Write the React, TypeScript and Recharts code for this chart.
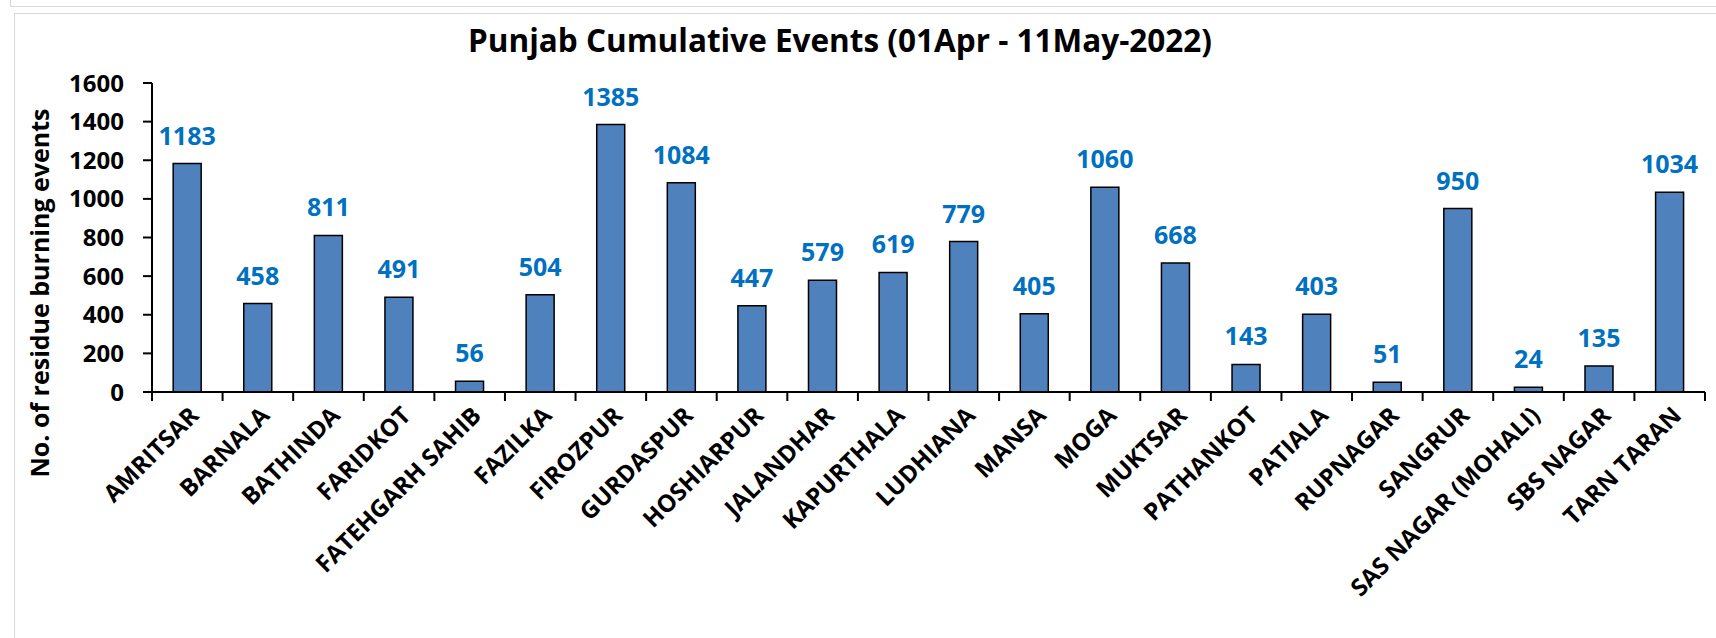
import React from 'react';
import { BarChart, Bar, XAxis, YAxis, LabelList, Label } from 'recharts';

const categories = [
  'AMRITSAR', 'BARNALA', 'BATHINDA', 'FARIDKOT', 'FATEHGARH SAHIB', 'FAZILKA',
  'FIROZPUR', 'GURDASPUR', 'HOSHIARPUR', 'JALANDHAR', 'KAPURTHALA', 'LUDHIANA',
  'MANSA', 'MOGA', 'MUKTSAR', 'PATHANKOT', 'PATIALA', 'RUPNAGAR', 'SANGRUR',
  'SAS NAGAR (MOHALI)', 'SBS NAGAR', 'TARN TARAN',
];
const events = [
  1183, 458, 811, 491, 56, 504, 1385, 1084, 447, 579, 619, 779, 405, 1060, 668,
  143, 403, 51, 950, 24, 135, 1034,
];
const yTicks = [0, 200, 400, 600, 800, 1000, 1200, 1400, 1600];
const title = 'Punjab Cumulative Events (01Apr - 11May-2022)';
const yLabel = 'No. of residue burning events';

const data = categories.map((name, i) => ({ name, value: events[i] }));

const CHART_W = 1716;
const CHART_H = 638;
const Y_AXIS_W = 152;
const X_AXIS_H = 246;
const MARGIN = { top: 83, right: 11, bottom: 0, left: 0 };
const PLOT_LEFT = MARGIN.left + Y_AXIS_W;
const PLOT_W = CHART_W - PLOT_LEFT - MARGIN.right;
const PLOT_BOTTOM = CHART_H - MARGIN.bottom - X_AXIS_H;
const BAND = PLOT_W / categories.length;
const boundaryIdx = [...categories.map((_, i) => i), categories.length];

const FONT = '"Open Sans", Lato, sans-serif';

const XTick = (props: any) => {
  const { x, y, payload } = props;
  const tx = Number(x) + 13;
  const ty = Number(y) + 25;
  return (
    <text
      x={tx}
      y={ty}
      textAnchor="end"
      transform={`rotate(-45, ${tx}, ${ty})`}
      fontFamily={FONT}
      fontWeight={700}
      fontSize={24}
      fill="#000"
    >
      {payload.value}
    </text>
  );
};

const YLabelContent = () => (
  <text
    x={49}
    y={293}
    textAnchor="middle"
    transform="rotate(-90, 49, 293)"
    fontFamily={FONT}
    fontWeight={700}
    fontSize={25}
    fill="#000"
  >
    {yLabel}
  </text>
);

export default function App() {
  return (
    <div style={{ position: 'absolute', left: 0, top: 0, width: CHART_W, height: CHART_H, background: '#fff', overflow: 'hidden' }}>
      <div style={{ position: 'absolute', left: 10, top: -2, width: 1720, height: 8, border: '1.5px solid #d9d9d9', borderTop: 'none', borderRight: 'none' }} />
      <div style={{ position: 'absolute', left: 14, top: 13, width: 1720, height: 640, border: '1.5px solid #d9d9d9', borderBottom: 'none', borderRight: 'none' }} />
      <svg style={{ position: 'absolute', left: 0, top: 0 }} width={CHART_W} height={70}>
        <text x={840} y={52} textAnchor="middle" fontFamily={FONT} fontWeight={700} fontSize={31.5} fill="#000">
          {title}
        </text>
      </svg>
      <div style={{ position: 'absolute', left: 0, top: 0 }}>
        <BarChart
          width={CHART_W}
          height={CHART_H}
          data={data}
          margin={MARGIN}
          barCategoryGap="30%"
        >
          <XAxis
            dataKey="name"
            type="category"
            interval={0}
            height={X_AXIS_H}
            tickSize={0}
            tickMargin={0}
            axisLine={{ stroke: '#000', strokeWidth: 2 }}
            tickLine={false}
            tick={(p: any) => <XTick {...p} />}
          />
          <YAxis
            width={Y_AXIS_W}
            domain={[0, 1600]}
            ticks={yTicks}
            interval={0}
            tickSize={9}
            tickMargin={19}
            axisLine={{ stroke: '#000', strokeWidth: 2 }}
            tickLine={{ stroke: '#000', strokeWidth: 2 }}
            tick={{ fontFamily: FONT, fontWeight: 700, fontSize: 24, fill: '#000' }}
          >
            <Label content={<YLabelContent />} />
          </YAxis>
          <Bar
            dataKey="value"
            fill="#4F81BD"
            stroke="#000"
            strokeWidth={1.5}
            isAnimationActive={false}
          >
            <LabelList
              dataKey="value"
              position="top"
              offset={19}
              fill="#0070C0"
              fontFamily={FONT}
              fontWeight={700}
              fontSize={25}
            />
          </Bar>
        </BarChart>
      </div>
      <svg style={{ position: 'absolute', left: 0, top: 0, pointerEvents: 'none' }} width={CHART_W} height={CHART_H}>
        {boundaryIdx.map((i) => (
          <line
            key={i}
            x1={PLOT_LEFT + i * BAND}
            x2={PLOT_LEFT + i * BAND}
            y1={PLOT_BOTTOM}
            y2={PLOT_BOTTOM + 9}
            stroke="#000"
            strokeWidth={2}
          />
        ))}
      </svg>
    </div>
  );
}
